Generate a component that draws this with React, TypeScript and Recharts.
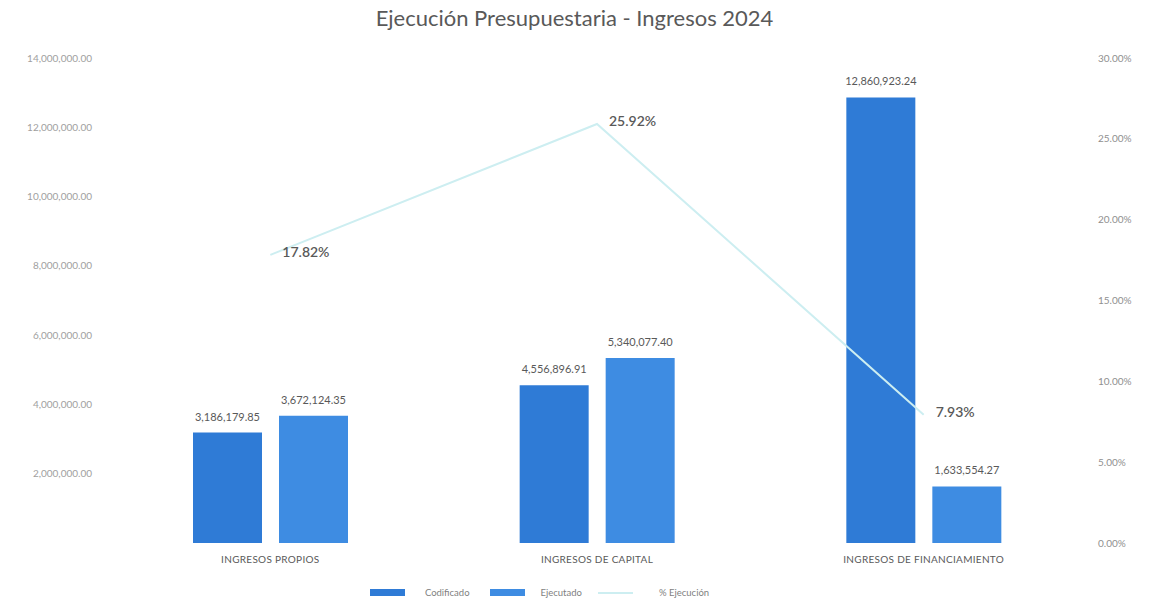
import React from "react";
import {
  ComposedChart,
  Bar,
  Line,
  XAxis,
  YAxis,
  Legend,
  LabelList,
} from "recharts";

const categories = ["INGRESOS PROPIOS", "INGRESOS DE CAPITAL", "INGRESOS DE FINANCIAMIENTO"];
const codificado = [3186179.85, 4556896.91, 12860923.24];
const ejecutado = [3672124.35, 5340077.4, 1633554.27];
const ejecucionPct = [17.82, 25.92, 7.93];
const leftTicks = [2000000, 4000000, 6000000, 8000000, 10000000, 12000000, 14000000];
const rightTicks = [0, 5, 10, 15, 20, 25, 30];

const data = categories.map((c, i) => ({
  name: c,
  codificado: codificado[i],
  ejecutado: ejecutado[i],
  pct: ejecucionPct[i],
}));

const FONT = "Lato, 'Open Sans', sans-serif";
const C_COD = "#2F7BD6";
const C_EJE = "#3E8CE2";
const C_LINE = "#CDEEF1";

const fmtMoney = (v: number) =>
  v.toLocaleString("en-US", { minimumFractionDigits: 2, maximumFractionDigits: 2 });
const fmtPct = (v: number) => v.toFixed(2) + "%";

const PctLabel = (props: any) => {
  const { x, y, value } = props;
  return (
    <text
      x={x + 12}
      y={y - 3}
      textAnchor="start"
      dominantBaseline="central"
      fontFamily={FONT}
      fontSize={14}
      fontWeight={600}
      fill="#595959"
    >
      {fmtPct(value)}
    </text>
  );
};

const LegendContent = () => {
  const item = (swatch: React.ReactNode, label: string, ml: number, tl: number) => (
    <div style={{ display: "flex", alignItems: "center", marginLeft: ml }}>
      {swatch}
      <span style={{ marginLeft: tl, fontSize: 9.5, color: "#7F7F7F", fontFamily: FONT }}>{label}</span>
    </div>
  );
  return (
    <div style={{ display: "flex", justifyContent: "center", alignItems: "center", paddingRight: 70 }}>
      {item(<div style={{ width: 35, height: 7, background: C_COD }} />, "Codificado", 0, 20)}
      {item(<div style={{ width: 35, height: 7, background: C_EJE }} />, "Ejecutado", 20, 16)}
      {item(<div style={{ width: 35, height: 2, background: C_LINE }} />, "% Ejecución", 16, 26)}
    </div>
  );
};

export default function App() {
  return (
    <div style={{ position: "absolute", left: 0, top: 0, width: 1149, height: 605, background: "#fff" }}>
      <div
        style={{
          position: "absolute",
          left: 0,
          top: 4,
          width: 1149,
          textAlign: "center",
          fontFamily: FONT,
          fontSize: 22,
          color: "#595959",
        }}
      >
        Ejecución Presupuestaria - Ingresos 2024
      </div>
      <ComposedChart
        width={1149}
        height={605}
        data={data}
        margin={{ top: 58, right: 0, bottom: 0, left: 0 }}
        barGap={17}
      >
        <XAxis
          dataKey="name"
          axisLine={false}
          tickLine={false}
          tickSize={0}
          tickMargin={13}
          height={62}
          tick={{ fontFamily: FONT, fontSize: 10, fill: "#595959", letterSpacing: 0.3 }}
        />
        <YAxis
          yAxisId="left"
          orientation="left"
          width={107}
          domain={[0, 14000000]}
          ticks={leftTicks}
          axisLine={false}
          tickLine={false}
          tickSize={0}
          tickMargin={15}
          tickFormatter={fmtMoney}
          tick={{ fontFamily: FONT, fontSize: 10, fill: "#A0A0A0" }}
        />
        <YAxis
          yAxisId="right"
          orientation="right"
          width={62}
          domain={[0, 30]}
          ticks={rightTicks}
          axisLine={false}
          tickLine={false}
          tickSize={0}
          tickMargin={11}
          tickFormatter={fmtPct}
          tick={{ fontFamily: FONT, fontSize: 10, fill: "#8F8F8F" }}
        />
        <Bar yAxisId="left" dataKey="codificado" name="Codificado" fill={C_COD} barSize={69} isAnimationActive={false}>
          <LabelList
            dataKey="codificado"
            position="top"
            offset={12}
            formatter={(v: any) => fmtMoney(Number(v))}
            style={{ fontFamily: FONT, fontSize: 11, fill: "#595959" }}
          />
        </Bar>
        <Bar yAxisId="left" dataKey="ejecutado" name="Ejecutado" fill={C_EJE} barSize={69} isAnimationActive={false}>
          <LabelList
            dataKey="ejecutado"
            position="top"
            offset={12}
            formatter={(v: any) => fmtMoney(Number(v))}
            style={{ fontFamily: FONT, fontSize: 11, fill: "#595959" }}
          />
        </Bar>
        <Line
          yAxisId="right"
          dataKey="pct"
          name="% Ejecución"
          stroke={C_LINE}
          strokeWidth={2}
          dot={false}
          activeDot={false}
          isAnimationActive={false}
        >
          <LabelList dataKey="pct" content={PctLabel} />
        </Line>
        <Legend
          layout="horizontal"
          verticalAlign="middle"
          align="center"
          content={LegendContent}
          wrapperStyle={{ top: 587, left: 0, width: 1149 }}
        />
      </ComposedChart>
    </div>
  );
}
